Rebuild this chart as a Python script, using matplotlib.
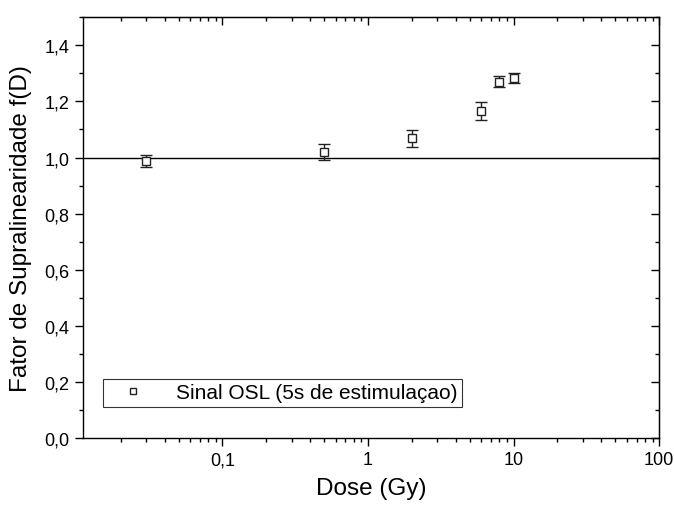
import matplotlib
matplotlib.use("Agg")
import matplotlib.pyplot as plt
from matplotlib.lines import Line2D
from matplotlib.ticker import FuncFormatter, MultipleLocator, LogLocator, NullFormatter

plt.rcParams['font.family'] = ['Liberation Sans', 'DejaVu Sans']

# dados
dose = [0.03, 0.5, 2, 6, 8, 10]
fator = [0.988, 1.019, 1.068, 1.165, 1.270, 1.284]
erro = [0.021, 0.029, 0.031, 0.033, 0.020, 0.019]
legenda = "Sinal OSL (5s de estimulaçao)"

fig = plt.figure(figsize=(6.74, 5.06), dpi=100)
ax = fig.add_axes([0.123, 0.132, 0.855, 0.832])

ax.axhline(1.0, color='black', lw=1.0, zorder=1)
ax.errorbar(dose, fator, yerr=erro, fmt='s', ms=6, mfc='white', mec='#222222',
            mew=1.0, ecolor='#222222', elinewidth=1.0, capsize=4, capthick=1.0,
            zorder=3)

ax.set_xscale('log')
ax.set_xlim(0.011, 100)
ax.set_ylim(0, 1.5)

ax.yaxis.set_major_locator(MultipleLocator(0.2))
ax.yaxis.set_minor_locator(MultipleLocator(0.1))
ax.xaxis.set_major_locator(LogLocator(base=10))
ax.xaxis.set_minor_locator(LogLocator(base=10, subs=range(2, 10)))
ax.xaxis.set_minor_formatter(NullFormatter())

def fmt_x(v, pos):
    return ('%g' % v).replace('.', ',')

def fmt_y(v, pos):
    return ('%.1f' % v).replace('.', ',')

ax.xaxis.set_major_formatter(FuncFormatter(fmt_x))
ax.yaxis.set_major_formatter(FuncFormatter(fmt_y))

ax.tick_params(which='both', direction='out', top=False, right=False, labelsize=13)
ax.tick_params(which='major', length=6, width=1)
ax.tick_params(which='minor', length=3, width=1)

# ticks espelhados para dentro (estilo Origin)
axt = ax.secondary_xaxis('top')
axt.set_xscale('log')
axt.tick_params(which='both', direction='in', labeltop=False)
axt.tick_params(which='major', length=6, width=1)
axt.tick_params(which='minor', length=3, width=1)
axt.xaxis.set_minor_locator(LogLocator(base=10, subs=range(2, 10)))
axr = ax.secondary_yaxis('right')
axr.yaxis.set_major_locator(MultipleLocator(0.2))
axr.yaxis.set_minor_locator(MultipleLocator(0.1))
axr.tick_params(which='both', direction='in', labelright=False)
axr.tick_params(which='major', length=6, width=1)
axr.tick_params(which='minor', length=3, width=1)

for s in ax.spines.values():
    s.set_linewidth(1.0)

ax.set_xlabel("Dose (Gy)", fontsize=17.5, labelpad=6)
ax.set_ylabel("Fator de Supralinearidade f(D)", fontsize=17.5, labelpad=9)

marca = Line2D([], [], ls='none', marker='s', ms=5, mfc='white', mec='#222222', mew=1.0)
leg = ax.legend([marca], [legenda], loc='lower left', bbox_to_anchor=(0.035, 0.074),
                borderaxespad=0, fontsize=15, frameon=True, fancybox=False,
                edgecolor='black', handlelength=2.4, borderpad=0.22, handletextpad=0.9)
leg.get_frame().set_linewidth(0.8)

fig.savefig("out.png", dpi=100)
plt.close('all')
